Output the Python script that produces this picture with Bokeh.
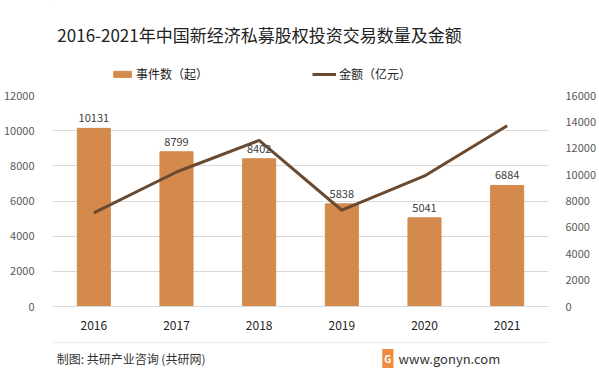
from bokeh.plotting import figure
from bokeh.models import (Range1d, LinearAxis, FixedTicker, Label, ColumnDataSource,
                          LabelSet, Legend, LegendItem, Span)
from bokeh.core.properties import value
from bokeh.layouts import column
from bokeh.embed import file_html
from bokeh.resources import INLINE

years = ["2016", "2017", "2018", "2019", "2020", "2021"]
counts = [10131, 8799, 8402, 5838, 5041, 6884]
amounts = [7100, 10200, 12600, 7300, 9900, 13700]
left_ticks = [0, 2000, 4000, 6000, 8000, 10000, 12000]
right_ticks = [0, 2000, 4000, 6000, 8000, 10000, 12000, 14000, 16000]
title_text = "2016-2021年中国新经济私募股权投资交易数量及金额"
series_names = ["事件数（起）", "金额（亿元）"]
source_text = "制图: 共研产业咨询 (共研网)"
site_text = "www.gonyn.com"

FONT = "Noto Sans CJK SC"
BAR = "#D38A4C"
LINE = "#6B4A2F"

W = 599
HEAD_H = 85
MAIN_H = 255
FOOT_H = 31
FL, FR = 52, 552
FT = 95 - HEAD_H          # frame top inside main figure
FB = 306 - HEAD_H         # frame bottom inside main figure


def blank(h):
    fig = figure(width=W, height=h, x_range=Range1d(0, W), y_range=Range1d(h, 0),
                 output_backend="svg", toolbar_location=None,
                 min_border_left=0, min_border_right=0, min_border_top=0,
                 min_border_bottom=0)
    fig.axis.visible = False
    fig.grid.visible = False
    fig.outline_line_color = None
    return fig


# header: title + legend
hd = blank(HEAD_H)
hd.add_layout(Label(x=250, y=34, text=title_text, text_font=FONT, text_font_size="17px",
                    text_color="#222222", text_align="center", text_baseline="middle"))
# legend-only renderers (zero-height bar / single-point line: nothing visible drawn)
dummy = ColumnDataSource(dict(x=[0], y=[0]))
hb = hd.vbar(x="x", top="y", bottom="y", width=1, color=BAR, source=dummy)
hl = hd.line(x="x", y="y", line_color=LINE, line_width=3, source=dummy)
for rend, name, xloc, gw in [(hb, series_names[0], 59, 22), (hl, series_names[1], 260, 24)]:
    lg = Legend(items=[LegendItem(label=name, renderers=[rend])], location=(xloc, 3),
                glyph_width=gw, glyph_height=8, label_standoff=3, padding=0, margin=0,
                border_line_color=None, background_fill_alpha=0,
                label_text_font=FONT, label_text_font_size="12px",
                label_text_color="#222222")
    hd.add_layout(lg)

# main chart
p = figure(width=W, height=MAIN_H, x_range=years, y_range=Range1d(0, 12000),
           output_backend="svg", toolbar_location=None,
           min_border_left=FL, min_border_right=W - FR, min_border_top=FT,
           min_border_bottom=MAIN_H - FB)
p.outline_line_color = None
p.background_fill_color = "white"
p.extra_y_ranges = {"amt": Range1d(0, 16000)}

src = ColumnDataSource(dict(year=years, count=counts, amount=amounts,
                            lbl=[str(c) for c in counts]))
p.vbar(x="year", top="count", width=0.4, color=BAR, source=src)
p.line(x="year", y="amount", y_range_name="amt", line_color=LINE, line_width=3,
       source=src)

labels = LabelSet(x="year", y="count", text="lbl", source=src, y_offset=6,
                  text_align="center", text_baseline="bottom",
                  text_font_size="11px", text_color="#404040", text_font=value(FONT))
p.add_layout(labels)

p.ygrid.grid_line_color = "#D9D9D9"
p.xgrid.grid_line_color = None
p.yaxis.ticker = FixedTicker(ticks=left_ticks)
p.yaxis.axis_line_color = None
p.yaxis.major_tick_line_color = None
p.yaxis.minor_tick_line_color = None
p.yaxis.major_label_text_font_size = "11px"
p.yaxis.major_label_text_color = "#595959"
p.yaxis.major_label_text_font = FONT
p.yaxis.major_label_standoff = 12

ra = LinearAxis(y_range_name="amt", ticker=FixedTicker(ticks=right_ticks))
ra.axis_line_color = None
ra.major_tick_line_color = None
ra.minor_tick_line_color = None
ra.major_label_text_font_size = "11px"
ra.major_label_text_color = "#595959"
ra.major_label_text_font = FONT
ra.major_label_standoff = 11
p.add_layout(ra, "right")

p.xaxis.axis_line_color = "#D9D9D9"
p.xaxis.major_tick_line_color = None
p.xaxis.minor_tick_line_color = None
p.xaxis.major_label_text_font_size = "12px"
p.xaxis.major_label_text_color = "#222222"
p.xaxis.major_label_text_font = FONT
p.xaxis.major_label_standoff = 8

# footer
f = blank(FOOT_H)
f.add_layout(Span(location=2, dimension="width", line_color="#EBEBEB", line_width=1))
f.add_layout(Label(x=5, y=18, text=source_text, text_font=FONT, text_font_size="12px",
                   text_color="#333333", text_baseline="middle"))
f.add_layout(Label(x=405, y=18, text="G", text_font=FONT, text_font_size="10px",
                   text_color="white", text_align="center", text_baseline="middle",
                   text_font_style="bold", background_fill_color="#F08A3C",
                   padding=2))
f.add_layout(Label(x=418, y=18, text=site_text, text_font=FONT, text_font_size="13px",
                   text_color="#333333", text_baseline="middle"))

out = file_html(column(hd, p, f, spacing=0), INLINE)
open("out.html", "w").write(out)
